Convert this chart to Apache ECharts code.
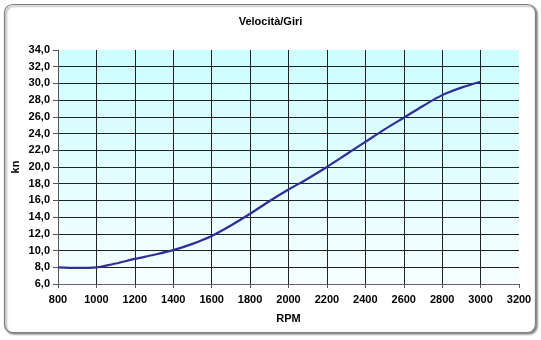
<!DOCTYPE html>
<html>
<head>
<meta charset="utf-8">
<script src="https://cdn.jsdelivr.net/npm/echarts@6/dist/echarts.min.js"></script>
<style>html,body{margin:0;padding:0;background:#fff;}#c{width:541px;height:340px;}</style>
</head>
<body>
<div id="c"></div>
<script>
var rpm = [800, 900, 1000, 1100, 1200, 1300, 1400, 1500, 1600, 1700, 1800, 1900, 2000, 2100, 2200, 2300, 2400, 2500, 2600, 2700, 2800, 2900, 3000];
var speed = [8.0, 7.92, 8.0, 8.45, 9.0, 9.5, 10.05, 10.8, 11.75, 13.0, 14.4, 15.9, 17.3, 18.6, 20.0, 21.5, 23.0, 24.5, 25.9, 27.3, 28.6, 29.5, 30.2];
var titleText = 'Velocità/Giri';
var xName = 'RPM';
var yName = 'kn';

var pts = rpm.map(function (r, i) { return [r, speed[i]]; });
var font = 'Liberation Sans, Arial, sans-serif';
var chart = echarts.init(document.getElementById('c'), null, {renderer: 'canvas'});
chart.setOption({
  animation: false,
  backgroundColor: '#fff',
  graphic: [{
    type: 'rect', z: -10,
    shape: {x: 4.5, y: 4.5, width: 531, height: 328, r: 8},
    style: {fill: '#fff', stroke: '#808080', lineWidth: 1.2,
            shadowBlur: 2, shadowOffsetX: 1.5, shadowOffsetY: 1.5, shadowColor: 'rgba(0,0,0,0.45)'}
  }],
  title: {
    text: titleText, left: 'center', top: 11,
    textStyle: {fontFamily: font, fontSize: 11, fontWeight: 'bold', color: '#000'}
  },
  grid: {left: 58, right: 22, top: 50, bottom: 56, show: true, borderWidth: 0,
    backgroundColor: {type: 'linear', x: 0, y: 0, x2: 0, y2: 1,
      colorStops: [{offset: 0, color: '#ccfdff'}, {offset: 1, color: '#f6feff'}]}},
  xAxis: {
    type: 'value', min: 800, max: 3200, interval: 200,
    name: xName, nameLocation: 'middle', nameGap: 29,
    nameTextStyle: {fontFamily: font, fontSize: 11, fontWeight: 'bold', color: '#000'},
    axisLine: {show: true, lineStyle: {color: '#666', width: 1}},
    axisTick: {show: true, length: 4, lineStyle: {color: '#555'}},
    axisLabel: {fontFamily: font, fontSize: 11, fontWeight: 'bold', color: '#000', margin: 10,
      formatter: function (v) { return String(v); }},
    splitLine: {show: true, showMaxLine: false, lineStyle: {color: '#222', width: 1}}
  },
  yAxis: {
    type: 'value', min: 6, max: 34, interval: 2,
    name: yName, nameLocation: 'middle', nameGap: 37, nameRotate: 90, nameMoveOverlap: false,
    nameTextStyle: {fontFamily: font, fontSize: 11, fontWeight: 'bold', color: '#000'},
    axisLine: {show: true, lineStyle: {color: '#555', width: 1}},
    axisTick: {show: true, length: 5, lineStyle: {color: '#555'}},
    axisLabel: {fontFamily: font, fontSize: 11, fontWeight: 'bold', color: '#000', margin: 8,
      formatter: function (v) { return v.toFixed(1).replace('.', ','); }},
    splitLine: {show: true, showMaxLine: false, lineStyle: {color: '#222', width: 1}}
  },
  series: [{
    type: 'line', data: pts, smooth: 0.3, symbol: 'none',
    lineStyle: {color: '#2e2e96', width: 2.2}
  }]
});
</script>
</body>
</html>
